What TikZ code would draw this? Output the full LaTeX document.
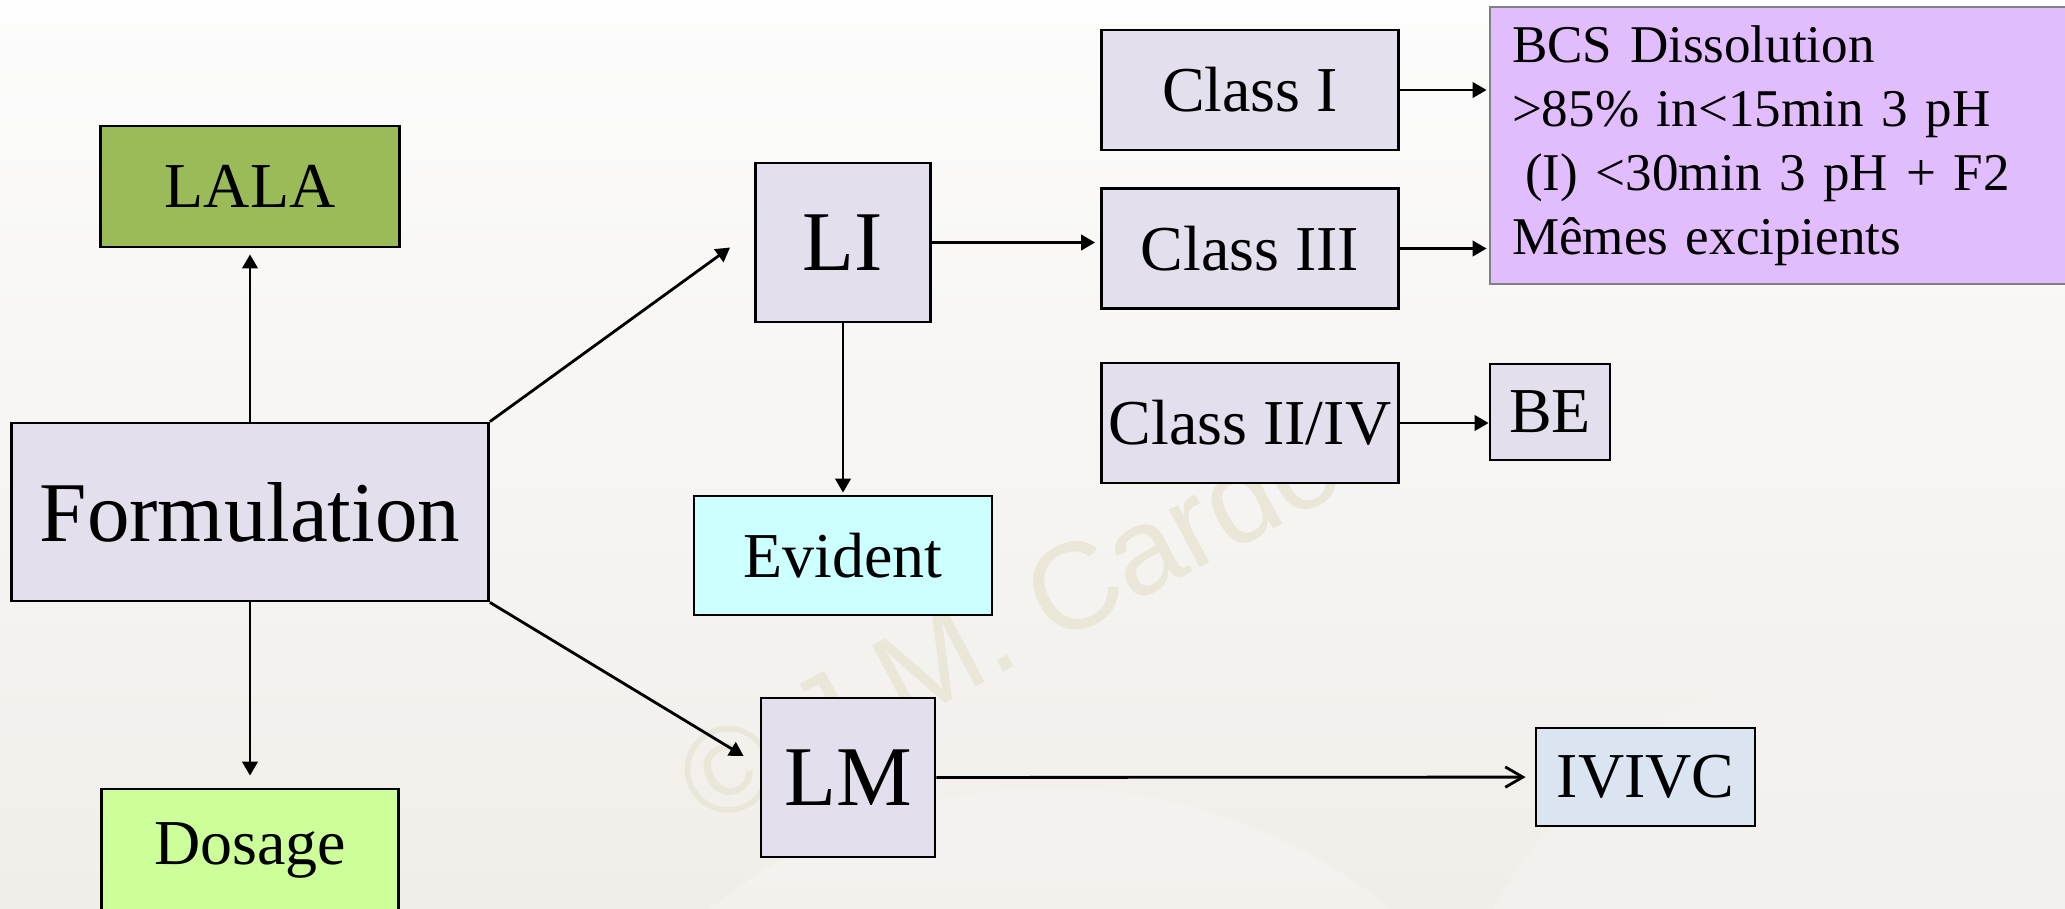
\documentclass[tikz,border=0pt]{standalone}
\usepackage{fontspec}
\setmainfont{Liberation Serif}
\setsansfont{Liberation Sans}
\usepackage{xcolor}
\usetikzlibrary{arrows.meta, positioning, calc}

\definecolor{lavbox}{HTML}{E4DFEC}
\definecolor{lalabox}{HTML}{9BBB59}
\definecolor{evbox}{HTML}{CCFFFF}
\definecolor{dosbox}{HTML}{CCFF99}
\definecolor{bcsbox}{HTML}{E1BDFD}
\definecolor{ivbox}{HTML}{DBE5F1}
\definecolor{wmark}{HTML}{EAE7D8}
\definecolor{bgtop}{HTML}{FCFCFC}
\definecolor{bgbot}{HTML}{F1EEE9}

\begin{document}
\begin{tikzpicture}[>={Triangle[length=4pt,width=4.4pt]},thick,node distance=2cm,
				main node/.style={rectangle,draw,fill=lavbox,inner sep=0pt,font=\fontsize{24.2}{28}\selectfont},
				sub node/.style={rectangle,draw,fill=lavbox,inner sep=0pt,minimum width=2.97cm,minimum height=1.2cm,font=\fontsize{18.2}{22}\selectfont}]
				
				\useasboundingbox (0,0) rectangle (20.65,9.08);
				\clip (0,0) rectangle (20.65,9.08);
				
				% background
				\shade[top color=bgtop,bottom color=bgbot,draw=none] (0,0) rectangle (20.65,9.08);
				\fill[white!60!bgtop] (0,8.85) rectangle (20.65,9.08);
				\fill[bgbot!70!white,opacity=0.6] (19.5,-2.5) circle (5.2);
				\fill[bgbot!60!white,opacity=0.5] (10.5,-4.2) circle (5.4);
				\node[rotate=28,anchor=base west,text=wmark,font=\sffamily\fontsize{35}{35}\selectfont] (wm) at (6.97,0.73) {© J.M. Cardot};
				
				\node[main node,minimum width=4.77cm,minimum height=1.78cm] (form) at (2.50,3.96) {Formulation};
				\node[sub node,fill=lalabox,minimum width=2.99cm,minimum height=1.21cm] (lala) [above of=form,node distance=3.255cm] {LALA};
				\node[sub node,fill=dosbox,minimum height=1.22cm] (dosage) [below of=form,node distance=3.38cm] {Dosage};
				
				\node[main node,minimum width=1.75cm,minimum height=1.59cm] (li) at (8.43,6.655) {LI};
				\node[sub node,fill=evbox,minimum width=2.98cm,minimum height=1.19cm] (evident) [below of=li,node distance=3.13cm] {Evident};
				\node[main node,minimum width=1.74cm,minimum height=1.59cm] (lm) at (8.48,1.305) {LM};
				
				\node[sub node] (c1) at (12.50,8.18) {Class I};
				\node[sub node] (c3) [below of=c1,node distance=1.585cm] {Class III};
				\node[sub node] (c24) [below of=c3,node distance=1.745cm] {Class II/IV};
				\node[sub node,minimum width=1.20cm,minimum height=0.96cm] (be) at (15.50,4.96) {BE};
				
				\node[rectangle,draw=gray,fill=bcsbox,inner xsep=0.22cm,inner ysep=0pt,text width=5.46cm,minimum height=2.77cm,align=left,
					font=\fontsize{15.1}{18.2}\selectfont] (bcs) at (17.85,7.625)
					{BCS Dissolution\\>85\% in<15min 3 pH\\\hspace{0.25em}(I) <30min 3 pH + F2\\Mêmes excipients};
				
				\node[sub node,fill=ivbox,minimum width=2.19cm,minimum height=0.98cm] (ivivc) at (16.455,1.31) {IVIVC};
				
				\coordinate (toli) at ($(li.west)+(-0.24,-0.05)$);
				\coordinate (tolm) at ($(lm.west)+(-0.16,0.215)$);
				
				\path[->]
				
				(form) edge[shorten >=0.06cm] (lala)
				(form) edge[shorten >=0.12cm] (dosage)
				(form.north east) edge (toli)
				(form.south east) edge (tolm)
				(li) edge[shorten >=0.02cm] (evident)
				(li) edge[shorten >=0.05cm] (li -| c3.west)
				(c1) edge[shorten >=0.02cm] (c1 -| bcs.west)
				(c3) edge[shorten >=0.02cm] (c3 -| bcs.west)
				(c24) edge (c24 -| be.west)
				(lm) edge[-{Straight Barb[length=5pt,width=5.8pt]},shorten >=0.09cm] (ivivc);
			\end{tikzpicture}
\end{document}
